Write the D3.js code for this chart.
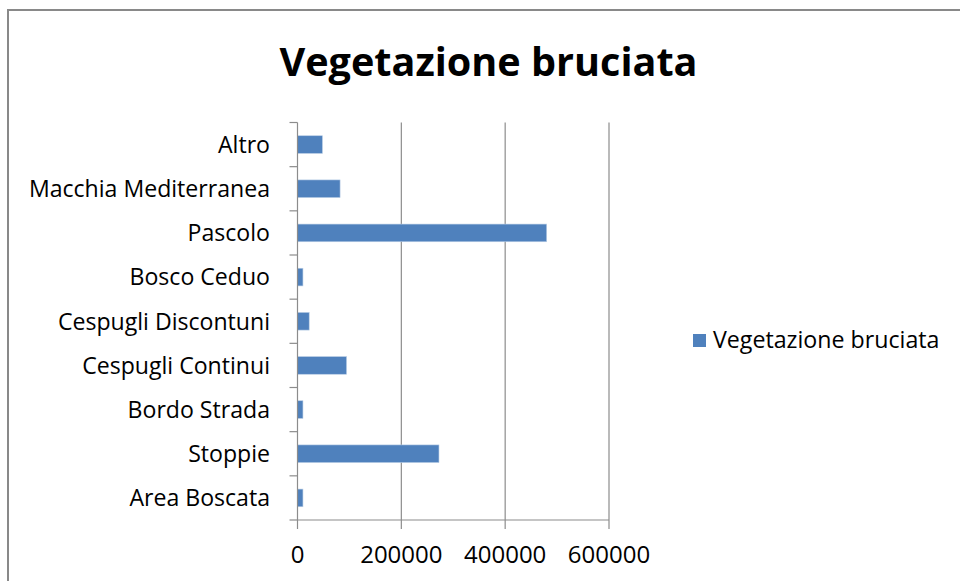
<!DOCTYPE html>
<html><head><meta charset="utf-8">
<script src="https://cdn.jsdelivr.net/npm/d3@7"></script>
<style>body{margin:0;background:#fff}svg{display:block}text{font-family:"Open Sans",Lato,sans-serif}</style>
</head><body><svg id="c" width="960" height="581"></svg>
<script>
const categories = ["Altro","Macchia Mediterranea","Pascolo","Bosco Ceduo","Cespugli Discontuni","Cespugli Continui","Bordo Strada","Stoppie","Area Boscata"];
const values = [48000,82000,480000,10500,22500,94500,10500,272500,10500];
const xTicks = [0,200000,400000,600000];
const seriesName = "Vegetazione bruciata";
const title = "Vegetazione bruciata";

const svg = d3.select("#c");
svg.append("rect").attr("x",8).attr("y",10).attr("width",1000).attr("height",700)
  .attr("fill","#fff").attr("stroke","#898989").attr("stroke-width",2);

const m = {left:297.5, right:609, top:122.5, bottom:520};
const x = d3.scaleLinear().domain([0,600000]).range([m.left,m.right]);
const y = d3.scaleBand().domain(categories).range([m.top,m.bottom]).paddingInner(0.6).paddingOuter(0.3);

svg.append("text").attr("x",488.5).attr("y",76).attr("text-anchor","middle")
  .attr("font-size",39.6).attr("font-weight","bold").attr("fill","#000").text(title);

// gridlines
svg.append("g").selectAll("line").data(xTicks.slice(1)).join("line")
  .attr("x1",d=>x(d)).attr("x2",d=>x(d)).attr("y1",m.top).attr("y2",m.bottom)
  .attr("stroke","#8c8c8c").attr("stroke-width",1.2);

// bars
svg.append("g").selectAll("rect").data(categories).join("rect")
  .attr("x",x(0)).attr("y",c=>y(c)).attr("width",(c,i)=>x(values[i])-x(0)).attr("height",y.bandwidth())
  .attr("fill","#4f81bd").attr("stroke","#b9cde5").attr("stroke-width",0.6);

// y axis
const yAxis = svg.append("g");
yAxis.append("line").attr("x1",m.left).attr("x2",m.left).attr("y1",m.top).attr("y2",m.bottom).attr("stroke","#8c8c8c").attr("stroke-width",1.2);
const yt = d3.range(categories.length+1).map(i=>m.top + i*(m.bottom-m.top)/categories.length);
yAxis.selectAll(".t").data(yt).join("line").attr("x1",m.left-8).attr("x2",m.left).attr("y1",d=>d).attr("y2",d=>d).attr("stroke","#8c8c8c").attr("stroke-width",1.2);
yAxis.selectAll("text").data(categories).join("text")
  .attr("x",270).attr("y",c=>y(c)+y.bandwidth()/2).attr("dy","0.36em").attr("text-anchor","end")
  .attr("font-size",23.1).attr("fill","#000").text(c=>c);

// x axis
const xAxis = svg.append("g");
xAxis.append("line").attr("x1",m.left).attr("x2",m.right).attr("y1",m.bottom).attr("y2",m.bottom).attr("stroke","#8c8c8c").attr("stroke-width",1.2);
xAxis.selectAll(".t").data(xTicks).join("line").attr("x1",d=>x(d)).attr("x2",d=>x(d)).attr("y1",m.bottom).attr("y2",m.bottom+9).attr("stroke","#8c8c8c").attr("stroke-width",1.2);
xAxis.selectAll("text").data(xTicks).join("text")
  .attr("x",d=>x(d)).attr("y",563).attr("text-anchor","middle").attr("font-size",24).attr("fill","#000").text(d=>d);

// legend
svg.append("rect").attr("x",693).attr("y",334).attr("width",13).attr("height",13).attr("fill","#4f81bd");
svg.append("text").attr("x",713).attr("y",348).attr("font-size",23.2).attr("fill","#000").text(seriesName);
</script></body></html>
